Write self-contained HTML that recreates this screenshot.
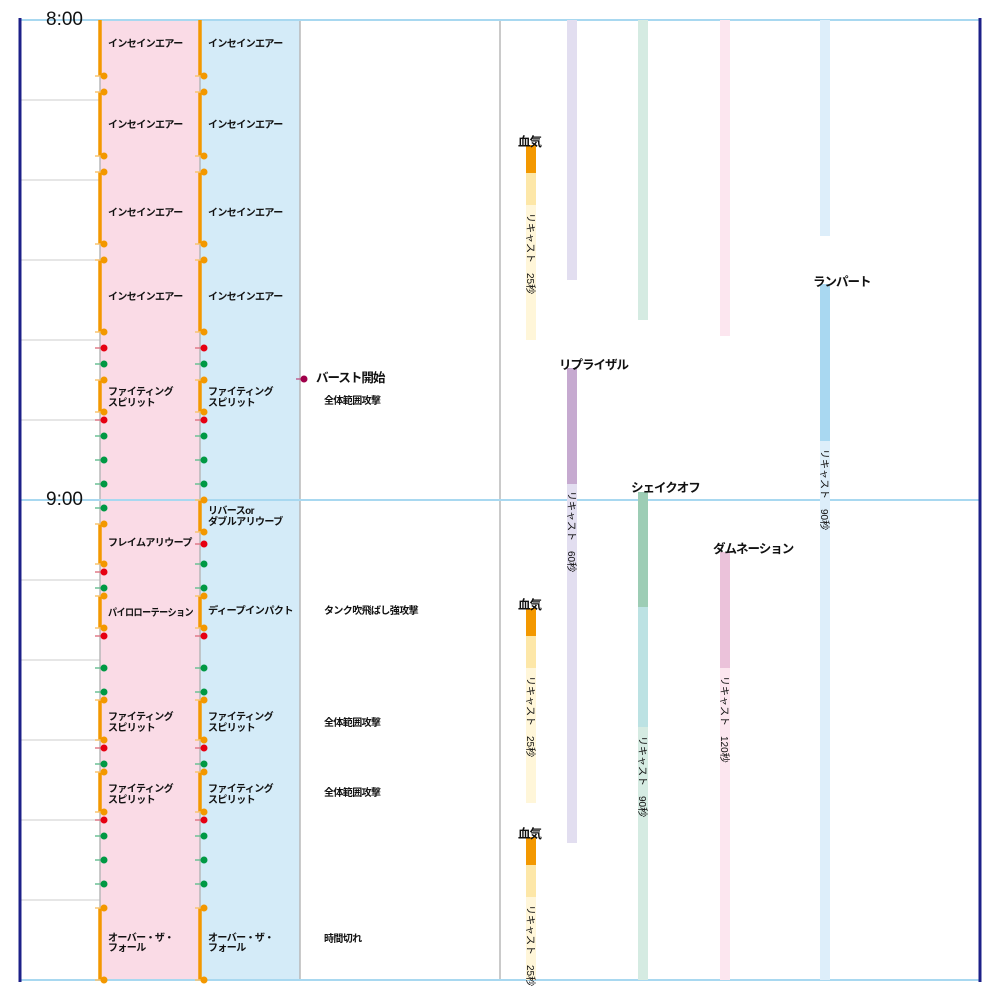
<!DOCTYPE html>
<html><head><meta charset="utf-8"><style>
html,body{margin:0;padding:0;background:#fff}
svg{display:block}
text{font-family:"Liberation Sans","Noto Sans CJK JP",sans-serif;fill:#111}
.s{font-size:10px;font-weight:bold;letter-spacing:-0.6px}
.m{font-size:12.5px;font-weight:bold;letter-spacing:-1px}
.t{font-size:19px}
.v{font-size:10px;letter-spacing:0}
</style></head><body>
<svg width="1000" height="1000" viewBox="0 0 1000 1000" xmlns="http://www.w3.org/2000/svg">
<defs>
<g id="o"><line x1="95" y1="0" x2="103" y2="0" stroke="#f8c470" stroke-width="1.5"/><circle cx="104" cy="0" r="3.5" fill="#f39800"/></g>
<g id="r"><line x1="95" y1="0" x2="103" y2="0" stroke="#e07a88" stroke-width="1.5"/><circle cx="104" cy="0" r="3.5" fill="#e60012"/></g>
<g id="g"><line x1="95" y1="0" x2="103" y2="0" stroke="#6cc095" stroke-width="1.5"/><circle cx="104" cy="0" r="3.5" fill="#009944"/></g>
</defs>
<rect x="100" y="20" width="100" height="960" fill="#fadbe6"/>
<rect x="200" y="20" width="100" height="960" fill="#d4ebf8"/>
<g stroke="#ddd" stroke-width="1.5">
<line x1="20" y1="100" x2="100" y2="100"/><line x1="20" y1="180" x2="100" y2="180"/><line x1="20" y1="260" x2="100" y2="260"/><line x1="20" y1="340" x2="100" y2="340"/><line x1="20" y1="420" x2="100" y2="420"/><line x1="20" y1="580" x2="100" y2="580"/><line x1="20" y1="660" x2="100" y2="660"/><line x1="20" y1="740" x2="100" y2="740"/><line x1="20" y1="820" x2="100" y2="820"/><line x1="20" y1="900" x2="100" y2="900"/>
</g>
<g stroke="#b8b8b8" stroke-width="1.5">
<line x1="100" y1="20" x2="100" y2="980"/><line x1="200" y1="20" x2="200" y2="980"/><line x1="300" y1="20" x2="300" y2="980"/><line x1="500" y1="20" x2="500" y2="980"/>
</g>
<g stroke="#a8d8f0" stroke-width="2">
<line x1="20" y1="20" x2="980" y2="20"/><line x1="20" y1="500" x2="980" y2="500"/><line x1="20" y1="980" x2="980" y2="980"/>
</g>
<line x1="20" y1="18" x2="20" y2="982" stroke="#1d2088" stroke-width="3"/>
<line x1="980" y1="18" x2="980" y2="982" stroke="#1d2088" stroke-width="3"/>
<text class="t" x="46" y="25">8:00</text>
<text class="t" x="46" y="505">9:00</text>
<g stroke="#f39800" stroke-width="3.5">
<line x1="100" y1="20" x2="100" y2="76"/><line x1="100" y1="92" x2="100" y2="156"/><line x1="100" y1="172" x2="100" y2="244"/><line x1="100" y1="260" x2="100" y2="332"/><line x1="100" y1="380" x2="100" y2="412"/><line x1="100" y1="524" x2="100" y2="564"/><line x1="100" y1="596" x2="100" y2="628"/><line x1="100" y1="700" x2="100" y2="740"/><line x1="100" y1="772" x2="100" y2="812"/><line x1="100" y1="908" x2="100" y2="980"/>
<line x1="200" y1="20" x2="200" y2="76"/><line x1="200" y1="92" x2="200" y2="156"/><line x1="200" y1="172" x2="200" y2="244"/><line x1="200" y1="260" x2="200" y2="332"/><line x1="200" y1="380" x2="200" y2="412"/><line x1="200" y1="500" x2="200" y2="532"/><line x1="200" y1="596" x2="200" y2="628"/><line x1="200" y1="700" x2="200" y2="740"/><line x1="200" y1="772" x2="200" y2="812"/><line x1="200" y1="908" x2="200" y2="980"/>
</g>
<use href="#o" y="76"/><use href="#o" y="92"/><use href="#o" y="156"/><use href="#o" y="172"/><use href="#o" y="244"/><use href="#o" y="260"/><use href="#o" y="332"/><use href="#o" y="380"/><use href="#o" y="412"/><use href="#o" y="524"/><use href="#o" y="564"/><use href="#o" y="596"/><use href="#o" y="628"/><use href="#o" y="700"/><use href="#o" y="740"/><use href="#o" y="772"/><use href="#o" y="812"/><use href="#o" y="908"/><use href="#o" y="980"/>
<use href="#r" y="348"/><use href="#r" y="420"/><use href="#r" y="572"/><use href="#r" y="636"/><use href="#r" y="748"/><use href="#r" y="820"/>
<use href="#g" y="364"/><use href="#g" y="436"/><use href="#g" y="460"/><use href="#g" y="484"/><use href="#g" y="508"/><use href="#g" y="588"/><use href="#g" y="668"/><use href="#g" y="692"/><use href="#g" y="764"/><use href="#g" y="836"/><use href="#g" y="860"/><use href="#g" y="884"/>
<g transform="translate(100,0)">
<use href="#o" y="76"/><use href="#o" y="92"/><use href="#o" y="156"/><use href="#o" y="172"/><use href="#o" y="244"/><use href="#o" y="260"/><use href="#o" y="332"/><use href="#o" y="380"/><use href="#o" y="412"/><use href="#o" y="500"/><use href="#o" y="532"/><use href="#o" y="596"/><use href="#o" y="628"/><use href="#o" y="700"/><use href="#o" y="740"/><use href="#o" y="772"/><use href="#o" y="812"/><use href="#o" y="908"/><use href="#o" y="980"/>
<use href="#r" y="348"/><use href="#r" y="420"/><use href="#r" y="544"/><use href="#r" y="636"/><use href="#r" y="748"/><use href="#r" y="820"/>
<use href="#g" y="364"/><use href="#g" y="436"/><use href="#g" y="460"/><use href="#g" y="484"/><use href="#g" y="564"/><use href="#g" y="588"/><use href="#g" y="668"/><use href="#g" y="692"/><use href="#g" y="764"/><use href="#g" y="836"/><use href="#g" y="860"/><use href="#g" y="884"/>
</g>
<g class="s">
<text x="108" y="47">インセインエアー</text><text x="108" y="128">インセインエアー</text><text x="108" y="216">インセインエアー</text><text x="108" y="300">インセインエアー</text>
<text x="108" y="395">ファイティング</text><text x="108" y="406">スピリット</text>
<text x="108" y="546">フレイムアリウープ</text>
<text x="108" y="616" textLength="85" lengthAdjust="spacingAndGlyphs">パイロローテーション</text>
<text x="108" y="720">ファイティング</text><text x="108" y="731">スピリット</text>
<text x="108" y="792">ファイティング</text><text x="108" y="803">スピリット</text>
<text x="108" y="941">オーバー・ザ・</text><text x="108" y="951">フォール</text>
<text x="208" y="47">インセインエアー</text><text x="208" y="128">インセインエアー</text><text x="208" y="216">インセインエアー</text><text x="208" y="300">インセインエアー</text>
<text x="208" y="395">ファイティング</text><text x="208" y="406">スピリット</text>
<text x="208" y="514">リバースor</text><text x="208" y="525">ダブルアリウーブ</text>
<text x="208" y="614" textLength="85" lengthAdjust="spacingAndGlyphs">ディープインパクト</text>
<text x="208" y="720">ファイティング</text><text x="208" y="731">スピリット</text>
<text x="208" y="792">ファイティング</text><text x="208" y="803">スピリット</text>
<text x="208" y="941">オーバー・ザ・</text><text x="208" y="951">フォール</text>
<text x="324" y="404">全体範囲攻撃</text>
<text x="324" y="614">タンク吹飛ばし強攻撃</text>
<text x="324" y="726">全体範囲攻撃</text>
<text x="324" y="796">全体範囲攻撃</text>
<text x="324" y="942">時間切れ</text>
</g>
<line x1="296" y1="379" x2="304" y2="379" stroke="#c06090" stroke-width="1.5"/><circle cx="304" cy="379" r="3.5" fill="#a0004a"/>
<text class="m" x="316" y="382">バースト開始</text>
<rect x="526" y="145" width="10" height="28" fill="#f39800"/><rect x="526" y="173" width="10" height="32" fill="#fde7a8"/><rect x="526" y="205" width="10" height="135" fill="#fff6d9"/>
<rect x="526" y="608" width="10" height="28" fill="#f39800"/><rect x="526" y="636" width="10" height="32" fill="#fde7a8"/><rect x="526" y="668" width="10" height="135" fill="#fff6d9"/>
<rect x="526" y="837" width="10" height="28" fill="#f39800"/><rect x="526" y="865" width="10" height="32" fill="#fde7a8"/><rect x="526" y="897" width="10" height="83" fill="#fff6d9"/>
<rect x="567" y="20" width="10" height="260" fill="#e2def0"/><rect x="567" y="368" width="10" height="116" fill="#c6aad0"/><rect x="567" y="484" width="10" height="359" fill="#e2def0"/>
<rect x="638" y="20" width="10" height="300" fill="#d5ebe2"/><rect x="638" y="492" width="10" height="115" fill="#9dcdb5"/><rect x="638" y="607" width="10" height="120" fill="#bce2e3"/><rect x="638" y="727" width="10" height="253" fill="#d5ebe2"/>
<rect x="720" y="20" width="10" height="316" fill="#fce6ef"/><rect x="720" y="552" width="10" height="116" fill="#ebc2da"/><rect x="720" y="668" width="10" height="312" fill="#fce6ef"/>
<rect x="820" y="20" width="10" height="216" fill="#ddeefa"/><rect x="820" y="284" width="10" height="157" fill="#a9d8f1"/><rect x="820" y="441" width="10" height="539" fill="#ddeefa"/>
<g class="m">
<text x="518" y="146">血気</text><text x="518" y="609">血気</text><text x="518" y="838">血気</text>
<text x="559" y="369">リプライザル</text>
<text x="631" y="492">シェイクオフ</text>
<text x="713" y="553">ダムネーション</text>
<text x="813" y="286">ランパート</text>
</g>
<g class="v">
<text transform="translate(527,213) rotate(90)">リキャスト　25秒</text>
<text transform="translate(527,676) rotate(90)">リキャスト　25秒</text>
<text transform="translate(527,905) rotate(90)">リキャスト　25秒</text>
<text transform="translate(568,491) rotate(90)">リキャスト　60秒</text>
<text transform="translate(639,736) rotate(90)">リキャスト　90秒</text>
<text transform="translate(721,676) rotate(90)">リキャスト　120秒</text>
<text transform="translate(821,449) rotate(90)">リキャスト　90秒</text>
</g>
</svg>
</body></html>
